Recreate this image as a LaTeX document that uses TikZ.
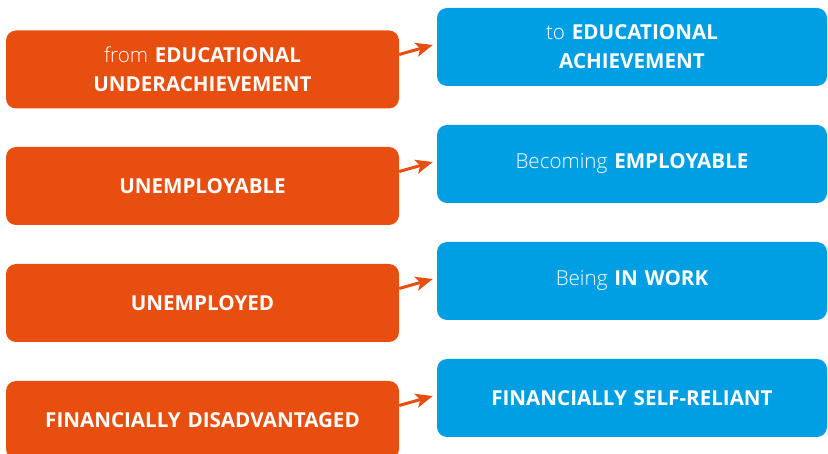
\documentclass[tikz,border=0pt]{standalone}
\usepackage{fontspec}
\setmainfont{Open Sans}
\IfFontExistsTF{Open Sans Light}{\newfontfamily\lightfont{Open Sans Light}}{\newfontfamily\lightfont{Open Sans}}
\usetikzlibrary{arrows.meta,calc}
\definecolor{orangebox}{HTML}{E84E0F}
\definecolor{bluebox}{HTML}{009FE3}
\tikzset{
  boxbase/.style={rounded corners=10pt, inner sep=0pt, text=white, align=center,
    minimum height=78pt, font=\fontsize{20.6}{29}\selectfont\bfseries},
  fromstate/.style={boxbase, fill=orangebox, minimum width=393pt, text width=385pt},
  tostate/.style={boxbase, fill=bluebox, minimum width=390pt, text width=385pt},
  shiftarrow/.style={draw=orangebox, line width=3pt,
    -{Stealth[length=17pt,width=14pt,inset=4pt]}}
}
\begin{document}
\begin{tikzpicture}[x=1pt,y=-1pt]
\useasboundingbox (0,0) rectangle (828,454);
\node[fromstate] (o1) at (202.5,69.5) {{\lightfont\mdseries from} EDUCATIONAL\\UNDERACHIEVEMENT};
\node[fromstate] (o2) at (202.5,186) {UNEMPLOYABLE};
\node[fromstate] (o3) at (202.5,303) {UNEMPLOYED};
\node[fromstate] (o4) at (202.5,420) {FINANCIALLY DISADVANTAGED};
\node[tostate] (b1) at (632,47) {{\lightfont\mdseries to} EDUCATIONAL\\ACHIEVEMENT};
\node[tostate] (b2) at (632,164) {{\lightfont\mdseries Becoming} EMPLOYABLE};
\node[tostate] (b3) at (632,281) {{\lightfont\mdseries Being} IN WORK};
\node[tostate] (b4) at (632,398) {FINANCIALLY SELF-RELIANT};
\foreach \i in {1,2,3,4}{
  \coordinate (tip\i) at ($(b\i.west)+(-4,-2)$);
  \coordinate (tail\i) at ($(o\i.east |- tip\i)+(0,9.5)$);
  \draw[shiftarrow] (tail\i) -- (tip\i);
}
\end{tikzpicture}
\end{document}
